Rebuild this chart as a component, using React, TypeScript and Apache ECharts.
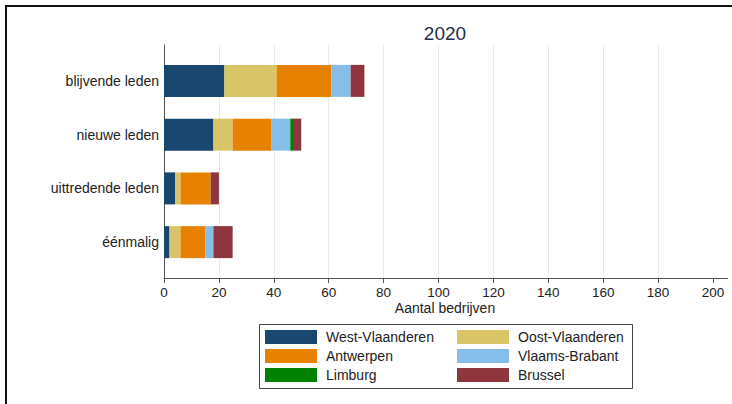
import React, { useEffect, useRef } from 'react';
import * as echarts from 'echarts';

const categories = ['blijvende leden', 'nieuwe leden', 'uittredende leden', 'éénmalig'];
const westVlaanderen = [22, 18, 4, 2];
const oostVlaanderen = [19, 7, 2, 4];
const antwerpen = [20, 14, 11, 9];
const vlaamsBrabant = [7, 7, 0, 3];
const limburg = [0, 1, 0, 0];
const brussel = [5, 3, 3, 7];
const xMin = 0;
const xMax = 200;
const xStep = 20;
const title = '2020';
const xName = 'Aantal bedrijven';

const seriesDefs = [
  { name: 'West-Vlaanderen', data: westVlaanderen, color: '#1a476f' },
  { name: 'Oost-Vlaanderen', data: oostVlaanderen, color: '#d9c467' },
  { name: 'Antwerpen', data: antwerpen, color: '#e68200' },
  { name: 'Vlaams-Brabant', data: vlaamsBrabant, color: '#85bfe9' },
  { name: 'Limburg', data: limburg, color: '#008000' },
  { name: 'Brussel', data: brussel, color: '#8f353d' },
];

const FONT = '"Liberation Sans", Arial, sans-serif';

export default function App() {
  const ref = useRef<HTMLDivElement>(null);
  useEffect(() => {
    if (!ref.current) return;
    const chart = echarts.init(ref.current, null, { renderer: 'svg' });
    const legendText = {
      fontSize: 14,
      color: '#222',
      fontFamily: FONT,
      lineHeight: 14,
      padding: [0, 0, 0, 4],
    };
    chart.setOption({
      animation: false,
      backgroundColor: '#fff',
      textStyle: { fontFamily: FONT },
      grid: [
        { left: 164, width: 549, top: 54, height: 215, containLabel: false },
        { left: 164, width: 549, top: 45, height: 233, containLabel: false },
      ],
      xAxis: [
        { type: 'value', gridIndex: 0, min: xMin, max: xMax, show: false },
        {
          type: 'value',
          gridIndex: 1,
          min: xMin,
          max: xMax,
          interval: xStep,
          axisLine: { show: true, lineStyle: { color: '#555', width: 1 } },
          axisTick: { show: true, length: 5, lineStyle: { color: '#555' } },
          axisLabel: { fontSize: 13.5, color: '#222', margin: 8, lineHeight: 12, fontFamily: FONT },
          splitLine: { show: true, showMaxLine: false, showMinLine: false, lineStyle: { color: '#e3ecef', width: 1 } },
        },
      ],
      yAxis: [
        {
          type: 'category',
          gridIndex: 0,
          data: categories,
          inverse: true,
          axisLine: { show: false },
          axisTick: { show: false },
          axisLabel: { fontSize: 14, color: '#222', margin: 5, fontFamily: FONT },
        },
        {
          type: 'value',
          gridIndex: 1,
          min: 0,
          max: 1,
          axisLine: { show: true, lineStyle: { color: '#555', width: 1 } },
          axisTick: { show: false },
          axisLabel: { show: false },
          splitLine: { show: false },
        },
      ],
      legend: [
        {
          orient: 'vertical',
          left: 265,
          top: 330,
          itemWidth: 52,
          itemHeight: 14,
          itemGap: 5,
          icon: 'rect',
          selectedMode: false,
          padding: 0,
          data: ['West-Vlaanderen', 'Antwerpen', 'Limburg'],
          textStyle: legendText,
        },
        {
          orient: 'vertical',
          left: 457,
          top: 330,
          itemWidth: 52,
          itemHeight: 14,
          itemGap: 5,
          icon: 'rect',
          selectedMode: false,
          padding: 0,
          data: ['Oost-Vlaanderen', 'Vlaams-Brabant', 'Brussel'],
          textStyle: legendText,
        },
      ],
      graphic: [
        {
          type: 'rect',
          z: -10,
          shape: { x: 6, y: 6, width: 1000, height: 1000 },
          style: { fill: 'none', stroke: '#111', lineWidth: 2 },
        },
        {
          type: 'rect',
          z: -5,
          shape: { x: 259.5, y: 324.5, width: 373, height: 64 },
          style: { fill: '#fff', stroke: '#444', lineWidth: 1 },
        },
        {
          type: 'line',
          shape: { x1: 713, y1: 278.5, x2: 728, y2: 278.5 },
          style: { stroke: '#555', lineWidth: 1 },
        },
        {
          type: 'text',
          x: 445,
          y: 33,
          style: {
            text: title,
            textAlign: 'center',
            textVerticalAlign: 'middle',
            fontSize: 19,
            fill: '#1f2d4d',
            fontFamily: FONT,
          },
        },
        {
          type: 'text',
          x: 445,
          y: 307.5,
          style: {
            text: xName,
            textAlign: 'center',
            textVerticalAlign: 'middle',
            fontSize: 14,
            lineHeight: 11,
            fill: '#222',
            fontFamily: FONT,
          },
        },
      ],
      series: seriesDefs.map((s) => ({
        name: s.name,
        type: 'bar',
        stack: 'total',
        xAxisIndex: 0,
        yAxisIndex: 0,
        barWidth: 32,
        data: s.data,
        itemStyle: { color: s.color },
      })),
    });
    return () => chart.dispose();
  }, []);
  return <div ref={ref} style={{ position: 'fixed', left: 0, top: 0, width: 732, height: 404 }} />;
}
